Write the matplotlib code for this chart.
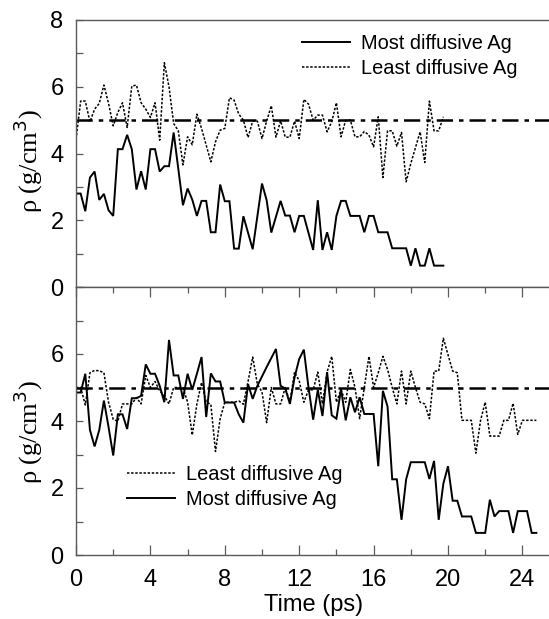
import numpy as np
import matplotlib
matplotlib.use("Agg")
import matplotlib.pyplot as plt
from matplotlib.lines import Line2D
from matplotlib.ticker import MultipleLocator

# ---- data: local density around the Ag atoms (g/cm^3) vs time (ps) ----
# upper panel
top_most_t = [0, 0.25, 0.5, 0.75, 1.0, 1.25, 1.5, 1.75, 2.0, 2.25, 2.5, 2.75, 3.0, 3.25,
              3.5, 3.75, 4.0, 4.25, 4.5, 4.75, 5.0, 5.25, 5.5, 5.75, 6.0, 6.25, 6.5, 6.75,
              7.0, 7.25, 7.5, 7.75, 8.0, 8.25, 8.5, 8.75, 9.0, 9.5, 10.0, 10.25, 10.5, 11.0,
              11.25, 11.5, 11.75, 12.0, 12.25, 12.75, 13.0, 13.25, 13.5, 13.75, 14.0, 14.25,
              14.5, 14.75, 15.25, 15.5, 15.75, 16.0, 16.25, 16.75, 17.0, 17.75, 18.0, 18.25,
              18.5, 18.75, 19.0, 19.25, 19.75]
top_most_rho = [2.80, 2.80, 2.27, 3.28, 3.46, 2.61, 2.79, 2.30, 2.13, 4.13, 4.13, 4.56, 4.13, 2.92,
                3.47, 2.92, 4.13, 4.13, 3.46, 3.62, 3.62, 4.63, 3.54, 2.45, 2.95, 2.62, 2.13, 2.58,
                2.58, 1.64, 1.64, 3.07, 2.57, 2.57, 1.15, 1.15, 2.12, 1.13, 3.10, 2.60, 1.63, 2.58,
                2.14, 2.14, 1.64, 2.13, 2.13, 1.11, 2.60, 1.11, 1.64, 1.11, 2.13, 2.58,
                2.58, 2.13, 2.13, 1.64, 2.13, 2.13, 1.64, 1.64, 1.16, 1.16, 0.64, 1.16,
                0.64, 0.64, 1.16, 0.64, 0.64]

top_least_t = [0, 0.25, 0.5, 0.75, 1.0, 1.25, 1.5, 1.75, 2.0, 2.25, 2.5, 2.75, 3.0, 3.25,
               3.5, 3.75, 4.0, 4.25, 4.5, 4.75, 5.0, 5.25, 5.5, 5.75, 6.0, 6.25, 6.5, 6.75,
               7.0, 7.25, 7.5, 7.75, 8.0, 8.25, 8.5, 8.75, 9.0, 9.25, 9.5, 9.75, 10.0, 10.25,
               10.5, 10.75, 11.0, 11.25, 11.5, 11.75, 12.0, 12.25, 12.5, 12.75, 13.0, 13.25,
               13.5, 13.75, 14.0, 14.25, 14.5, 14.75, 15.0, 15.25, 15.5, 15.75, 16.0, 16.25,
               16.5, 16.75, 17.0, 17.25, 17.5, 17.75, 18.0, 18.5, 18.75, 19.0, 19.25, 19.5,
               19.75]
top_least_rho = [4.42, 5.57, 5.57, 4.95, 5.33, 5.50, 6.05, 5.50, 4.83, 5.23, 5.52, 4.78, 6.02, 6.05,
                 5.52, 5.33, 5.08, 5.52, 4.40, 6.72, 6.00, 4.90, 4.68, 3.66, 4.50, 4.26, 5.18, 4.75,
                 4.25, 3.75, 4.35, 4.70, 4.75, 5.67, 5.60, 5.18, 5.00, 4.48, 4.97, 4.97, 4.45, 4.97,
                 5.43, 4.49, 4.98, 4.49, 4.49, 4.97, 4.45, 5.62, 5.48, 5.00, 5.15, 5.15,
                 4.65, 4.95, 5.52, 4.50, 5.00, 5.00, 4.50, 4.50, 4.66, 4.55, 4.20, 5.10,
                 3.28, 4.68, 4.68, 4.22, 4.63, 3.15, 3.70, 4.65, 3.73, 5.57, 4.68, 4.68,
                 5.10]

# lower panel
bot_most_t = [0, 0.25, 0.5, 0.75, 1.0, 1.25, 1.5, 1.75, 2.0, 2.25, 2.5, 2.75, 3.0, 3.25,
              3.5, 3.75, 4.0, 4.25, 4.5, 4.75, 5.0, 5.25, 5.5, 5.75, 6.0, 6.25, 6.5, 6.75,
              7.0, 7.25, 7.5, 7.75, 8.0, 8.25, 8.5, 8.75, 9.0, 9.25, 9.5, 9.75, 10.25, 10.75,
              11.0, 11.25, 11.5, 11.75, 12.0, 12.25, 12.5, 12.75, 13.0, 13.25, 13.5, 13.75,
              14.0, 14.25, 14.5, 14.75, 15.0, 15.25, 15.5, 16.0, 16.25, 16.5, 16.75, 17.0,
              17.25, 17.5, 17.75, 18.0, 18.75, 19.0, 19.25, 19.5, 19.75, 20.0, 20.25, 20.5,
              20.75, 21.25, 21.5, 22.0, 22.25, 22.5, 22.75, 23.25, 23.5, 23.75, 24.25, 24.5,
              24.75]
bot_most_rho = [4.85, 4.85, 5.41, 3.73, 3.24, 3.73, 4.61, 3.82, 2.97, 4.20, 4.20, 3.76, 4.68, 4.68,
                4.75, 5.69, 5.41, 5.41, 5.05, 4.56, 6.42, 5.36, 5.36, 4.66, 5.41, 4.93, 5.41, 5.91,
                4.12, 5.42, 5.18, 5.18, 4.55, 4.55, 4.55, 4.20, 3.95, 5.10, 4.66, 5.05, 5.61, 6.15,
                5.05, 4.97, 4.51, 5.30, 5.85, 6.13, 5.00, 4.04, 4.93, 4.15, 5.46, 4.17,
                4.07, 4.95, 4.02, 4.71, 4.26, 4.71, 4.21, 4.21, 2.65, 4.90, 4.43, 2.26,
                2.26, 1.05, 2.26, 2.77, 2.77, 2.27, 2.81, 1.05, 2.13, 2.65, 1.62, 1.62,
                1.15, 1.15, 0.66, 0.66, 1.65, 1.15, 1.31, 1.31, 0.66, 1.31, 1.31, 0.66,
                0.66]

bot_least_t = [0, 0.25, 0.5, 0.75, 1.0, 1.25, 1.5, 1.75, 2.0, 2.25, 2.5, 2.75, 3.0, 3.25,
               3.5, 3.75, 4.0, 4.25, 4.5, 4.75, 5.0, 5.25, 5.5, 5.75, 6.0, 6.25, 6.5, 6.75,
               7.0, 7.25, 7.5, 7.75, 8.0, 8.25, 8.5, 8.75, 9.0, 9.25, 9.5, 9.75, 10.0, 10.25,
               10.5, 10.75, 11.0, 11.25, 11.5, 11.75, 12.0, 12.25, 12.5, 12.75, 13.0, 13.25,
               13.5, 13.75, 14.0, 14.25, 14.5, 14.75, 15.0, 15.25, 15.5, 15.75, 16.0, 16.25,
               16.5, 16.75, 17.0, 17.25, 17.5, 17.75, 18.0, 18.25, 18.5, 18.75, 19.0, 19.25,
               19.5, 19.75, 20.0, 20.25, 20.5, 20.75, 21.25, 21.5, 21.75, 22.0, 22.25, 22.75,
               23.0, 23.25, 23.5, 23.75, 24.0, 24.75]
bot_least_rho = [5.00, 5.00, 4.48, 5.44, 5.51, 5.50, 5.44, 4.56, 4.05, 3.99, 4.51, 4.51, 4.51, 4.70,
                 4.51, 5.36, 5.00, 5.18, 4.90, 4.75, 4.51, 5.00, 5.00, 5.00, 4.56, 3.58, 4.51, 5.15,
                 4.56, 4.50, 3.09, 4.07, 4.56, 4.56, 4.56, 4.60, 4.50, 5.18, 5.91, 5.10, 4.87, 3.95,
                 5.00, 4.51, 4.51, 5.00, 4.56, 5.46, 5.20, 4.56, 4.93, 4.93, 5.46, 4.51,
                 5.46, 5.93, 4.56, 4.93, 4.56, 5.54, 5.00, 4.07, 5.00, 5.93, 5.00, 5.44,
                 5.93, 5.54, 5.00, 4.51, 5.49, 4.51, 5.49, 5.00, 4.56, 4.51, 4.07, 5.49,
                 5.49, 6.47, 5.98, 5.49, 5.44, 4.02, 4.02, 3.04, 4.02, 4.56, 3.55, 3.55,
                 4.02, 4.02, 4.53, 3.60, 4.02, 4.02]

ref_rho = 5.0  # reference bulk density
x_major = [0, 4, 8, 12, 16, 20, 24]
top_yticks = [0, 2, 4, 6, 8]
bot_yticks = [0, 2, 4, 6]

# ---- styling ----
W, H = 549, 619
fig = plt.figure(figsize=(W / 100, H / 100), dpi=100)
plt.rcParams['font.family'] = ['Liberation Sans', 'DejaVu Sans']

frame_c = '#5a5a5a'
solid_kw = dict(color='black', lw=1.4, solid_joinstyle='miter')
dot_kw = dict(color='black', lw=1.1, dashes=(1.6, 1.1))
ref_kw = dict(color='black', lw=1.8, dashes=(6.5, 2.4, 1.8, 2.4))

left = 76 / W
xmax = 25.5
width = xmax * 18.6 / W
ax_top = fig.add_axes([left, 1 - 287 / H, width, 267 / H])
ax_bot = fig.add_axes([left, 1 - 555 / H, width, 268 / H])

for ax, ly in ((ax_top, 0.47), (ax_bot, 0.46)):
    ax.set_xlim(0, xmax)
    ax.set_ylim(0, 8)
    ax.axhline(ref_rho, **ref_kw)
    for s in ax.spines.values():
        s.set_color(frame_c)
        s.set_linewidth(1.0)
    ax.spines['right'].set_visible(False)
    ax.yaxis.set_minor_locator(MultipleLocator(1))
    ax.tick_params(axis='y', which='both', direction='in', length=5, width=0.9,
                   color=frame_c, labelsize=17, pad=9, right=False)
    ax.set_ylabel('ρ (g/cm$^3$)', family=['Liberation Serif', 'DejaVu Serif'],
                  fontsize=19)
    ax.yaxis.set_label_coords(-0.066, ly)

ax_top.plot(top_least_t, top_least_rho, **dot_kw)
ax_top.plot(top_most_t, top_most_rho, **solid_kw)
ax_top.set_yticks(top_yticks)
ax_top.set_xticks([])
ax_top.tick_params(axis='x', which='both', bottom=False, top=False, labelbottom=False)

ax_bot.plot(bot_least_t, bot_least_rho, **dot_kw)
ax_bot.plot(bot_most_t, bot_most_rho, **solid_kw)
ax_bot.set_yticks(bot_yticks)
ax_bot.set_xticks(x_major)
ax_bot.xaxis.set_minor_locator(MultipleLocator(2))
ax_bot.tick_params(axis='x', which='major', direction='in', length=7, width=0.9,
                   color=frame_c, labelsize=17, pad=10, top=True)
ax_bot.tick_params(axis='x', which='minor', direction='in', length=4, width=0.9,
                   color=frame_c, top=True)
ax_bot.set_xlabel('Time (ps)', fontsize=17, labelpad=2.5)

# legends
h_most = Line2D([], [], **solid_kw)
h_least = Line2D([], [], **dot_kw)
leg_kw = dict(frameon=False, fontsize=14.4, handlelength=2.4, handletextpad=0.55,
              labelspacing=0.3, borderpad=0, borderaxespad=0, loc='upper left')
ax_top.legend([h_most, h_least], ['Most diffusive Ag', 'Least diffusive Ag'],
              bbox_to_anchor=(302 / W, 1 - 34 / H), bbox_transform=fig.transFigure, **leg_kw)
ax_bot.legend([h_least, h_most], ['Least diffusive Ag', 'Most diffusive Ag'],
              bbox_to_anchor=(127 / W, 1 - 465 / H), bbox_transform=fig.transFigure, **leg_kw)

fig.savefig('out.png', dpi=100)
